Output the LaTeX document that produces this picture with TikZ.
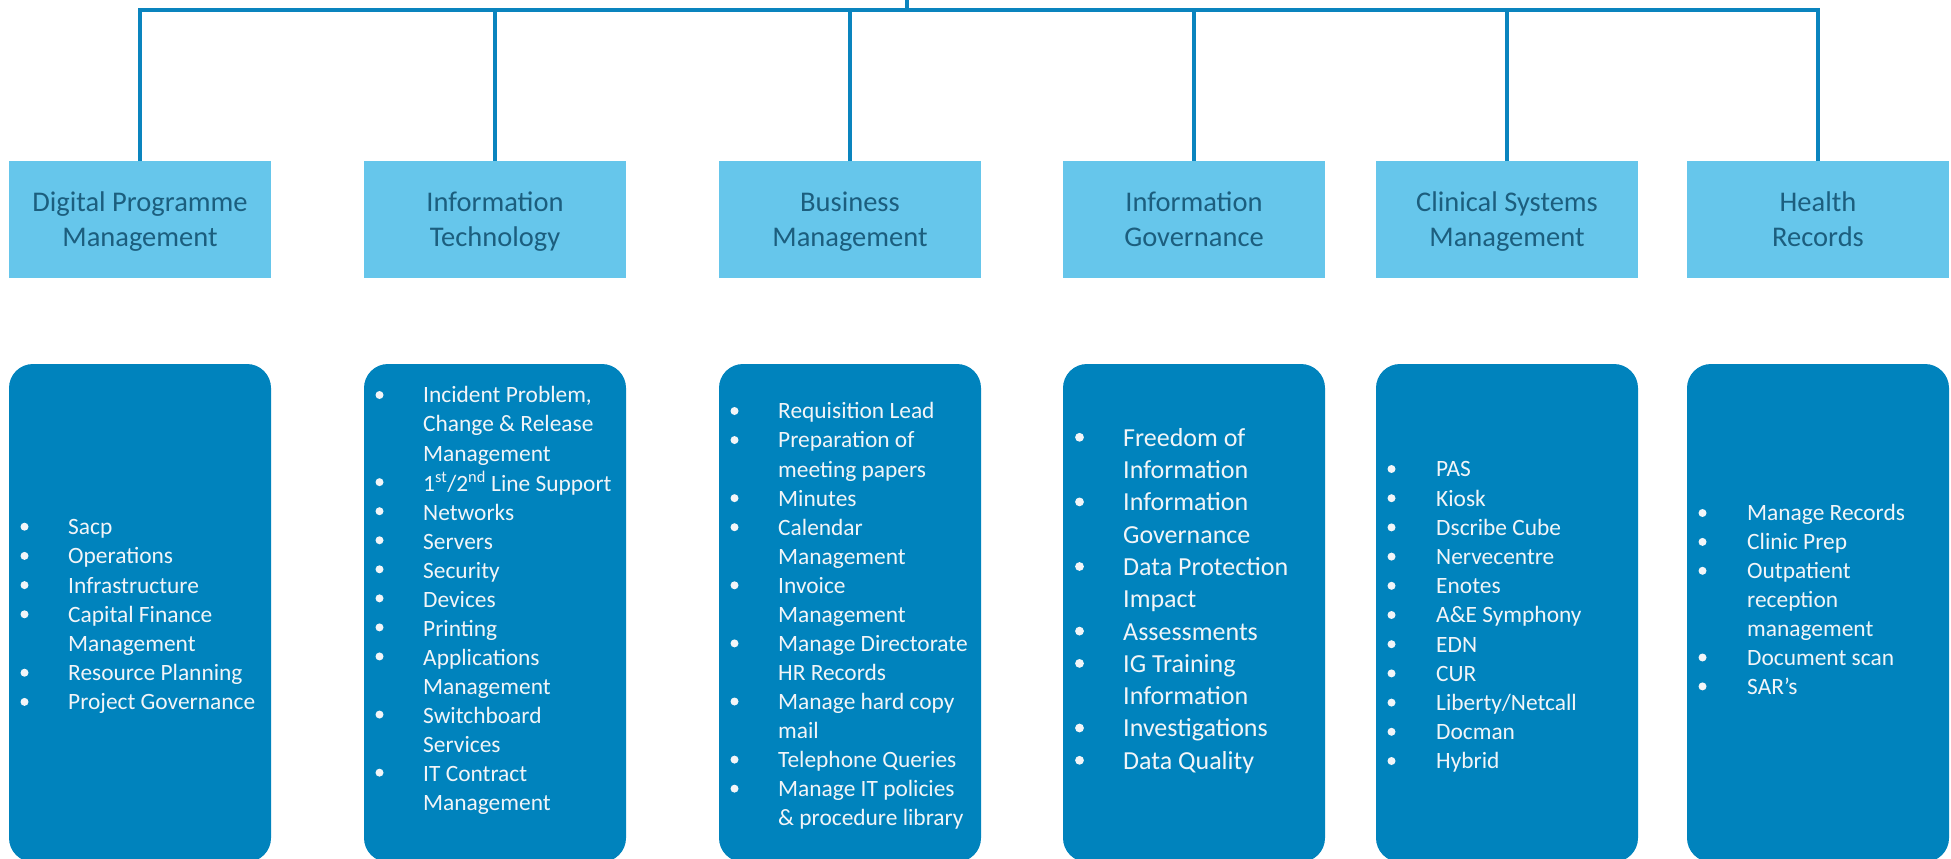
\documentclass[tikz,border=0pt]{standalone}
\usepackage{fontspec}
\setmainfont{Carlito}
\definecolor{lineblue}{HTML}{0A84BE}
\definecolor{headfill}{HTML}{66C6EB}
\definecolor{headtext}{HTML}{1C5E7E}
\definecolor{listfill}{HTML}{0083BD}
\definecolor{itemwhite}{HTML}{F2F5F8}
\newcommand\hfirst{\rule{0pt}{30pt}}
\tikzset{
  conn/.style={draw=lineblue, line width=4pt},
  headbox/.style={fill=headfill, minimum width=262pt, minimum height=117pt, inner sep=0pt,
    align=center, text=headtext, font=\fontsize{28.5}{35}\selectfont},
  listbox/.style={fill=listfill, rounded corners=24pt, minimum width=262pt, minimum height=498pt, inner sep=0pt},
  itemtext/.style={anchor=north west, inner sep=0pt, align=left, text=itemwhite},
  bulletdot/.style={fill=itemwhite},
}
\begin{document}
\begin{tikzpicture}[x=1pt,y=-1pt]
\useasboundingbox (0,0) rectangle (1951,859);

% header boxes
\node[headbox] (h1) at (140,219.5) {\hfirst Digital Programme\\\strut Management};
\node[headbox] (h2) at (495,219.5) {\hfirst Information\\\strut Technology};
\node[headbox] (h3) at (850,219.5) {\hfirst Business\\\strut Management};
\node[headbox] (h4) at (1194,219.5) {\hfirst Information\\\strut Governance};
\node[headbox] (h5) at (1507,219.5) {\hfirst Clinical Systems\\\strut Management};
\node[headbox] (h6) at (1818,219.5) {\hfirst Health\\\strut Records};

% connectors
\coordinate (root) at (907,0);
\coordinate (bus) at (907,10);
\draw[conn] (root) -- (bus);
\foreach \n in {h1,h2,h3,h4,h5,h6} \draw[conn] (bus) -| (\n.north);

% list boxes
\node[listbox] (l1) at (140,613) {};
\node[listbox] (l2) at (495,613) {};
\node[listbox] (l3) at (850,613) {};
\node[listbox] (l4) at (1194,613) {};
\node[listbox] (l5) at (1507,613) {};
\node[listbox] (l6) at (1818,613) {};

% list texts
\node[itemtext, font=\fontsize{23.4}{29.2}\selectfont] (t1) at (68,514.0) {%
\strut Sacp\\\strut Operations\\\strut Infrastructure\\\strut Capital Finance\\\strut Management\\\strut Resource Planning\\\strut Project Governance};
\foreach \i in {0,1,2,3,5,6} \fill[bulletdot] (24.5,526.7+\i*29.2) circle (4pt);

\node[itemtext, font=\fontsize{23.4}{29.05}\selectfont] (t2) at (423,382.4) {%
\strut Incident Problem,\\\strut Change \& Release\\\strut Management\\\strut 1\textsuperscript{st}/2\textsuperscript{nd} Line Support\\\strut Networks\\\strut Servers\\\strut Security\\\strut Devices\\\strut Printing\\\strut Applications\\\strut Management\\\strut Switchboard\\\strut Services\\\strut IT Contract\\\strut Management};
\foreach \i in {0,3,4,5,6,7,8,9,11,13} \fill[bulletdot] (379.5,395+\i*29.05) circle (4pt);

\node[itemtext, font=\fontsize{23.4}{29.05}\selectfont] (t3) at (778,398.4) {%
\strut Requisition Lead\\\strut Preparation of\\\strut meeting papers\\\strut Minutes\\\strut Calendar\\\strut Management\\\strut Invoice\\\strut Management\\\strut Manage Directorate\\\strut HR Records\\\strut Manage hard copy\\\strut mail\\\strut Telephone Queries\\\strut Manage IT policies\\\strut \& procedure library};
\foreach \i in {0,1,3,4,6,8,10,12,13} \fill[bulletdot] (734.5,411+\i*29.05) circle (4pt);

\node[itemtext, font=\fontsize{26}{32.3}\selectfont] (t4) at (1123,423.4) {%
\strut Freedom of\\\strut Information\\\strut Information\\\strut Governance\\\strut Data Protection\\\strut Impact\\\strut Assessments\\\strut IG Training\\\strut Information\\\strut Investigations\\\strut Data Quality};
\foreach \i in {0,2,4,6,7,9,10} \fill[bulletdot] (1079.5,437.3+\i*32.3) circle (4.4pt);

\node[itemtext, font=\fontsize{23.4}{29.2}\selectfont] (t5) at (1436,456.3) {%
\strut PAS\\\strut Kiosk\\\strut Dscribe Cube\\\strut Nervecentre\\\strut Enotes\\\strut A\&E Symphony\\\strut EDN\\\strut CUR\\\strut Liberty/Netcall\\\strut Docman\\\strut Hybrid};
\foreach \i in {0,...,10} \fill[bulletdot] (1391.5,469+\i*29.2) circle (4pt);

\node[itemtext, font=\fontsize{23.4}{28.9}\selectfont] (t6) at (1747,500.5) {%
\strut Manage Records\\\strut Clinic Prep\\\strut Outpatient\\\strut reception\\\strut management\\\strut Document scan\\\strut SAR’s};
\foreach \i in {0,1,2,5,6} \fill[bulletdot] (1702.5,513+\i*28.9) circle (4pt);
\end{tikzpicture}
\end{document}
